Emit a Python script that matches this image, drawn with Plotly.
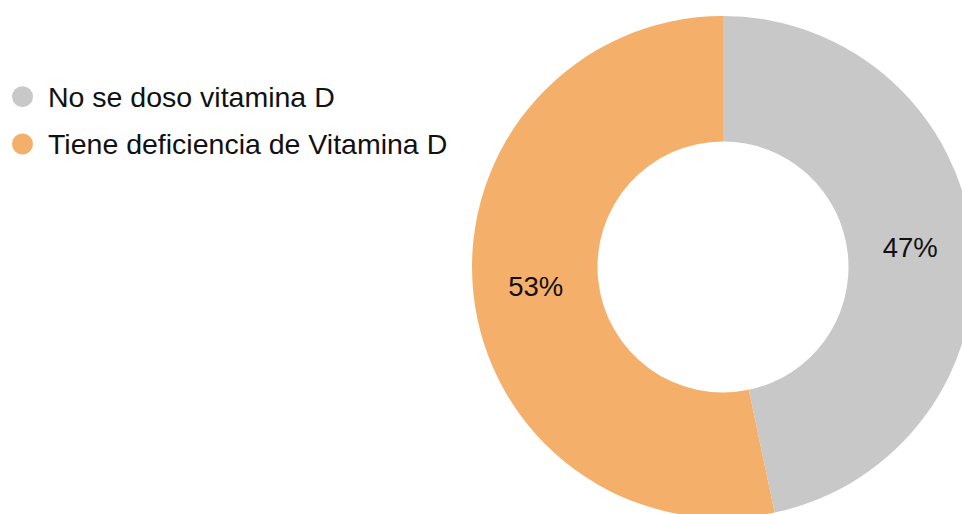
import plotly.graph_objects as go

labels = ["No se doso vitamina D", "Tiene deficiencia de Vitamina D"]
values = [46.7, 53.3]
colors = ["#C8C8C8", "#F4B06B"]

W, H = 974, 518
FONT = "Liberation Sans, Arial, sans-serif"

fig = go.Figure()
fig.add_trace(go.Pie(
    labels=labels,
    values=values,
    hole=0.5,
    sort=False,
    direction="clockwise",
    rotation=0,
    marker=dict(colors=colors, line=dict(width=0)),
    texttemplate="%{percent:.0%}",
    textposition="inside",
    insidetextorientation="horizontal",
    textfont=dict(family=FONT, size=27.5, color="#111111"),
    domain=dict(x=[472 / W, 1.0], y=[0.0, 502 / H]),
    showlegend=False,
    hoverinfo="label+percent",
))

# Legend drawn as circle markers plus text
leg_y = [96.7, 144.0]
shapes = []
annotations = []
for lab, col, yc in zip(labels, colors, leg_y):
    r = 10.5
    shapes.append(dict(
        type="circle", xref="paper", yref="paper",
        x0=(22.5 - r) / W, x1=(22.5 + r) / W,
        y0=(H - yc - r) / H, y1=(H - yc + r) / H,
        fillcolor=col, line=dict(width=0),
    ))
    annotations.append(dict(
        text=lab, xref="paper", yref="paper",
        x=46 / W, y=(H - yc) / H, xanchor="left", yanchor="middle",
        showarrow=False, font=dict(family=FONT, size=28.5, color="#111111"),
    ))

fig.update_layout(
    width=W, height=H,
    margin=dict(l=0, r=0, t=0, b=0),
    paper_bgcolor="white",
    plot_bgcolor="white",
    shapes=shapes,
    annotations=annotations,
)

fig.write_html(
    "out.html",
    config={"displayModeBar": False},
    post_script="document.documentElement.style.overflow='hidden';document.body.style.overflow='hidden';document.body.style.margin='0';",
)
